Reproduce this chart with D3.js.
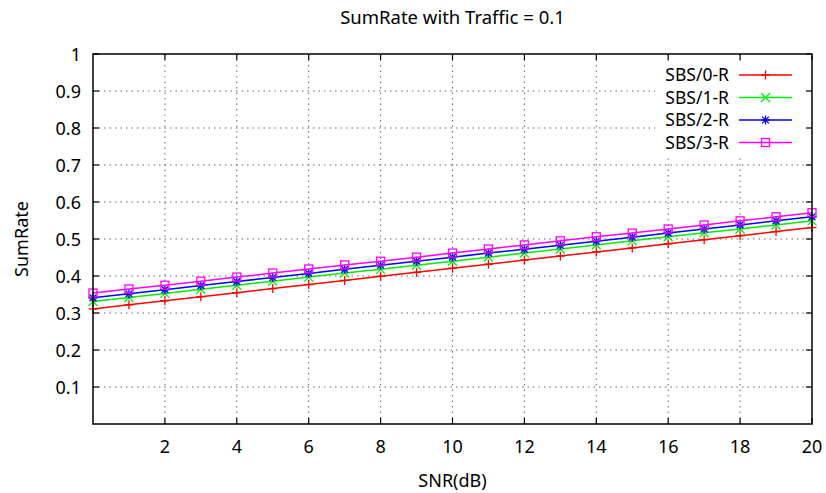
<!DOCTYPE html>
<html>
<head>
<meta charset="utf-8">
<script src="https://cdn.jsdelivr.net/npm/d3@7"></script>
<style>
  body { margin: 0; background: #fff; }
  svg { display: block; font-family: "Noto Sans", "Open Sans", sans-serif; }
</style>
</head>
<body>
<svg id="chart" width="826" height="493"></svg>
<script>
"use strict";

// data
const snr = [0, 1, 2, 3, 4, 5, 6, 7, 8, 9, 10, 11, 12, 13, 14, 15, 16, 17, 18, 19, 20];
const sbs0 = [0.311, 0.322, 0.333, 0.344, 0.355, 0.366, 0.377, 0.388, 0.399, 0.410, 0.421,
              0.432, 0.443, 0.454, 0.465, 0.476, 0.487, 0.498, 0.509, 0.520, 0.531];
const sbs1 = [0.331, 0.342, 0.353, 0.364, 0.375, 0.386, 0.397, 0.408, 0.418, 0.429, 0.440,
              0.451, 0.462, 0.473, 0.484, 0.495, 0.506, 0.517, 0.527, 0.538, 0.549];
const sbs2 = [0.341, 0.352, 0.363, 0.374, 0.385, 0.396, 0.407, 0.418, 0.429, 0.440, 0.451,
              0.462, 0.472, 0.483, 0.494, 0.505, 0.516, 0.527, 0.538, 0.549, 0.560];
const sbs3 = [0.354, 0.365, 0.375, 0.386, 0.397, 0.408, 0.419, 0.430, 0.440, 0.451, 0.462,
              0.473, 0.484, 0.495, 0.506, 0.516, 0.527, 0.538, 0.549, 0.560, 0.571];
const seriesNames = ["SBS/0-R", "SBS/1-R", "SBS/2-R", "SBS/3-R"];
const xTicks = [2, 4, 6, 8, 10, 12, 14, 16, 18, 20];
const yTicks = [0.1, 0.2, 0.3, 0.4, 0.5, 0.6, 0.7, 0.8, 0.9, 1];

const series = [
  { name: seriesNames[0], values: sbs0, color: "#ff0000", marker: "plus" },
  { name: seriesNames[1], values: sbs1, color: "#00ee00", marker: "cross" },
  { name: seriesNames[2], values: sbs2, color: "#0000ff", marker: "star" },
  { name: seriesNames[3], values: sbs3, color: "#ff00ff", marker: "square" }
];

const svg = d3.select("#chart");
const m = { left: 93, right: 812, top: 54, bottom: 424 };

const x = d3.scaleLinear().domain([0, 20]).range([m.left, m.right]);
const y = d3.scaleLinear().domain([0, 1]).range([m.bottom, m.top]);

// grid
const grid = svg.append("g")
  .attr("stroke", "#666")
  .attr("stroke-width", 1)
  .attr("stroke-dasharray", "1.5,4");
grid.selectAll(".gx")
  .data(xTicks.filter(d => d < 20))
  .enter().append("line")
    .attr("x1", d => x(d)).attr("x2", d => x(d))
    .attr("y1", m.bottom).attr("y2", m.top);
grid.selectAll(".gy")
  .data(yTicks.filter(d => d < 1))
  .enter().append("line")
    .attr("x1", m.left).attr("x2", m.right)
    .attr("y1", d => y(d)).attr("y2", d => y(d));

// legend background hides the grid
svg.append("rect")
  .attr("x", 655).attr("y", 63)
  .attr("width", m.right - 655).attr("height", 92)
  .attr("fill", "#fff");

// ticks, inward and mirrored
const tickLen = 6;
const ticks = svg.append("g").attr("stroke", "#000").attr("stroke-width", 1.2);
xTicks.forEach(d => {
  ticks.append("line").attr("x1", x(d)).attr("x2", x(d))
    .attr("y1", m.bottom).attr("y2", m.bottom - tickLen);
  ticks.append("line").attr("x1", x(d)).attr("x2", x(d))
    .attr("y1", m.top).attr("y2", m.top + tickLen);
});
yTicks.forEach(d => {
  ticks.append("line").attr("x1", m.left).attr("x2", m.left + tickLen)
    .attr("y1", y(d)).attr("y2", y(d));
  ticks.append("line").attr("x1", m.right).attr("x2", m.right - tickLen)
    .attr("y1", y(d)).attr("y2", y(d));
});

// tick labels
svg.append("g").selectAll("text")
  .data(xTicks)
  .enter().append("text")
    .attr("x", d => x(d))
    .attr("y", 453)
    .attr("text-anchor", "middle")
    .style("font-size", "18px")
    .text(d => d);
svg.append("g").selectAll("text")
  .data(yTicks)
  .enter().append("text")
    .attr("x", 81)
    .attr("y", d => y(d) + 6.5)
    .attr("text-anchor", "end")
    .style("font-size", "18px")
    .text(d => d3.format("")(d));

// series
const line = d3.line()
  .x((d, i) => x(snr[i]))
  .y(d => y(d));

function drawMarker(g, type, cx, cy, color) {
  const s = 4.5;
  const p = g.append("g").attr("stroke", color).attr("stroke-width", 1.3).attr("fill", "none");
  if (type === "plus" || type === "star") {
    p.append("line").attr("x1", cx - s).attr("x2", cx + s).attr("y1", cy).attr("y2", cy);
    p.append("line").attr("x1", cx).attr("x2", cx).attr("y1", cy - s).attr("y2", cy + s);
  }
  if (type === "cross" || type === "star") {
    const k = type === "star" ? s * 0.75 : s;
    p.append("line").attr("x1", cx - k).attr("x2", cx + k).attr("y1", cy - k).attr("y2", cy + k);
    p.append("line").attr("x1", cx - k).attr("x2", cx + k).attr("y1", cy + k).attr("y2", cy - k);
  }
  if (type === "square") {
    p.append("rect").attr("x", cx - 4).attr("y", cy - 4).attr("width", 8).attr("height", 8);
  }
}

const plot = svg.append("g");
series.forEach(s => {
  plot.append("path")
    .datum(s.values)
    .attr("fill", "none")
    .attr("stroke", s.color)
    .attr("stroke-width", 1.5)
    .attr("d", line);
  s.values.forEach((v, i) => drawMarker(plot, s.marker, x(snr[i]), y(v), s.color));
});

// frame
svg.append("rect")
  .attr("x", m.left).attr("y", m.top)
  .attr("width", m.right - m.left).attr("height", m.bottom - m.top)
  .attr("fill", "none").attr("stroke", "#000").attr("stroke-width", 1.5);

// legend
const legend = svg.append("g");
series.forEach((s, i) => {
  const ly = 75 + i * 22.5;
  legend.append("text")
    .attr("x", 729).attr("y", ly + 6)
    .attr("text-anchor", "end")
    .style("font-size", "17.5px")
    .text(s.name);
  legend.append("line")
    .attr("x1", 739).attr("x2", 792).attr("y1", ly).attr("y2", ly)
    .attr("stroke", s.color).attr("stroke-width", 1.5);
  drawMarker(legend, s.marker, 765.5, ly, s.color);
});

// title and axis labels
svg.append("text")
  .attr("x", (m.left + m.right) / 2).attr("y", 24)
  .attr("text-anchor", "middle")
  .style("font-size", "18.5px")
  .text("SumRate with Traffic = 0.1");
svg.append("text")
  .attr("x", (m.left + m.right) / 2).attr("y", 487)
  .attr("text-anchor", "middle")
  .style("font-size", "18px")
  .text("SNR(dB)");
svg.append("text")
  .attr("transform", "translate(28," + ((m.top + m.bottom) / 2) + ") rotate(-90)")
  .attr("text-anchor", "middle")
  .style("font-size", "18px")
  .text("SumRate");
</script>
</body>
</html>
